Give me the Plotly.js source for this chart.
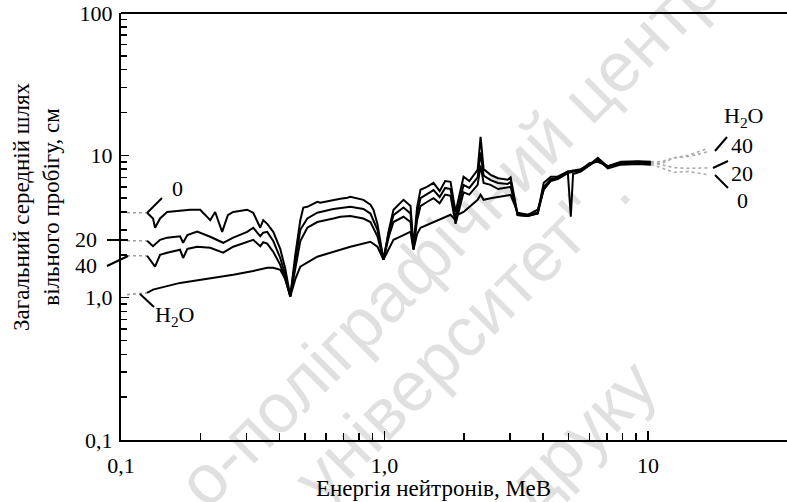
<!DOCTYPE html>
<html>
<head>
<meta charset="utf-8">
<script src="https://cdn.plot.ly/plotly-3.0.1.min.js"></script>
<style>
  html, body { margin: 0; padding: 0; background: #fff; }
  #chart { width: 787px; height: 502px; }
</style>
</head>
<body>
<div id="chart"></div>
<script>
// Total mean free path (cm) vs neutron energy (MeV), porosity 0 %, 20 %, 40 % and pure water.
const energy0 = [0.1054, 0.1256, 0.1323, 0.1347, 0.1407, 0.1496, 0.1676, 0.183, 0.1998, 0.2181, 0.2277, 0.2421, 0.2544, 0.2667, 0.3013, 0.3176, 0.3377, 0.3467, 0.359, 0.3784, 0.4022, 0.4203, 0.4391, 0.4587, 0.4793, 0.492, 0.5096, 0.556, 0.5709, 0.6398, 0.6801, 0.7232, 0.7424, 0.8321, 0.8846, 0.9082, 0.9406, 0.9913, 1.04, 1.082, 1.181, 1.256, 1.289, 1.33, 1.37, 1.45, 1.536, 1.62, 1.7, 1.782, 1.862, 1.997, 2.1, 2.258, 2.317, 2.379, 2.529, 2.7, 2.936, 3.013, 3.204, 3.498, 3.817, 4.024, 4.279, 4.549, 4.965, 5.097, 5.2, 5.564, 6.0, 6.455, 7.045, 7.897, 9.163, 10.27, 11.21, 12.56, 14.2, 16.9];
const path0   = [3.95, 3.95, 3.6, 3.1, 3.6, 4.0, 4.1, 4.15, 4.15, 3.5, 4.0, 2.9, 3.8, 4.0, 4.15, 3.95, 3.1, 3.5, 3.3, 2.9, 2.2, 1.6, 1.02, 2.0, 3.5, 4.3, 4.35, 4.72, 4.64, 4.87, 4.95, 5.03, 5.11, 4.87, 4.5, 4.15, 3.3, 1.85, 3.0, 4.15, 4.87, 4.4, 2.28, 4.3, 5.73, 6.0, 6.41, 5.6, 6.6, 6.52, 4.0, 7.07, 6.6, 7.91, 13.49, 8.0, 7.3, 6.9, 6.73, 7.0, 3.82, 3.82, 3.95, 6.41, 7.07, 7.1, 7.66, 3.7, 7.4, 7.7, 8.5, 9.4, 8.1, 8.6, 8.7, 8.6, 8.2, 7.6, 7.7, 7.3];

const energy20 = [0.1054, 0.1256, 0.1323, 0.1407, 0.1496, 0.1676, 0.1721, 0.1786, 0.1945, 0.2181, 0.2442, 0.2667, 0.3013, 0.3176, 0.3377, 0.3467, 0.359, 0.3784, 0.4022, 0.4203, 0.4391, 0.4587, 0.4793, 0.5096, 0.556, 0.6398, 0.6801, 0.7424, 0.8321, 0.8846, 0.9406, 0.9913, 1.04, 1.082, 1.181, 1.256, 1.289, 1.33, 1.37, 1.45, 1.536, 1.62, 1.7, 1.782, 1.862, 1.997, 2.1, 2.258, 2.317, 2.379, 2.529, 2.7, 2.936, 3.013, 3.204, 3.498, 3.817, 4.024, 4.279, 4.549, 4.965, 5.564, 6.0, 6.455, 7.045, 7.897, 9.163, 10.27, 11.21, 12.56, 14.2, 16.9];
const path20   = [2.51, 2.51, 2.3, 2.55, 2.64, 2.7, 2.43, 2.75, 2.91, 2.68, 2.43, 2.64, 2.9, 3.1, 2.7, 2.86, 2.9, 2.5, 1.9, 1.45, 1.02, 1.8, 3.0, 3.6, 3.95, 4.2, 4.28, 4.35, 4.2, 3.9, 3.0, 1.85, 2.9, 3.8, 4.3, 3.9, 2.2, 3.9, 5.0, 5.3, 5.7, 5.1, 5.9, 5.8, 3.6, 6.2, 5.9, 7.0, 10.5, 7.2, 6.7, 6.4, 6.3, 6.5, 3.8, 3.75, 3.9, 6.0, 6.8, 7.0, 7.7, 8.0, 8.6, 9.6, 8.3, 8.9, 9.0, 8.9, 8.6, 8.2, 8.1, 8.17];

const energy40 = [0.1054, 0.1256, 0.1347, 0.1407, 0.1496, 0.1676, 0.1721, 0.1786, 0.1945, 0.2181, 0.2442, 0.2667, 0.3013, 0.3176, 0.3377, 0.3467, 0.359, 0.3784, 0.4022, 0.4203, 0.4391, 0.4587, 0.4793, 0.5096, 0.556, 0.6398, 0.6801, 0.7424, 0.8321, 0.8846, 0.9406, 0.9913, 1.04, 1.082, 1.181, 1.256, 1.289, 1.33, 1.37, 1.45, 1.536, 1.62, 1.7, 1.782, 1.862, 1.997, 2.1, 2.258, 2.317, 2.379, 2.529, 2.7, 2.936, 3.013, 3.204, 3.498, 3.817, 4.024, 4.279, 4.549, 4.965, 5.564, 6.0, 6.455, 7.045, 7.897, 9.163, 10.27, 11.21, 12.56, 14.2, 16.9];
const path40   = [1.97, 1.97, 1.65, 2.0, 2.07, 2.17, 1.9, 2.2, 2.28, 2.24, 2.07, 2.28, 2.45, 2.55, 2.3, 2.45, 2.4, 2.1, 1.7, 1.35, 1.02, 1.6, 2.5, 3.1, 3.4, 3.6, 3.7, 3.75, 3.6, 3.4, 2.7, 1.85, 2.7, 3.4, 3.7, 3.4, 2.2, 3.5, 4.4, 4.7, 5.0, 4.6, 5.3, 5.2, 3.3, 5.5, 5.3, 6.2, 8.5, 6.4, 6.2, 5.8, 5.9, 6.0, 3.8, 3.75, 3.9, 5.8, 6.6, 6.8, 7.5, 7.9, 8.8, 9.0, 8.4, 9.0, 9.1, 9.0, 9.0, 9.6, 9.8, 10.6];

const energyWater = [0.1054, 0.1256, 0.1323, 0.1676, 0.2181, 0.2667, 0.3176, 0.359, 0.3784, 0.4022, 0.4203, 0.4391, 0.4587, 0.4793, 0.556, 0.6398, 0.7424, 0.8846, 0.9406, 0.9913, 1.04, 1.082, 1.181, 1.256, 1.289, 1.33, 1.37, 1.536, 1.782, 1.862, 1.895, 1.997, 2.258, 2.317, 2.379, 2.529, 2.936, 3.013, 3.204, 3.498, 3.817, 4.024, 4.279, 4.549, 4.965, 5.564, 6.455, 7.045, 7.897, 9.163, 10.27, 11.21, 12.56, 14.2, 16.9];
const pathWater   = [1.05, 1.08, 1.14, 1.27, 1.36, 1.45, 1.54, 1.62, 1.62, 1.57, 1.35, 1.02, 1.35, 1.65, 1.94, 2.1, 2.28, 2.47, 2.28, 1.85, 2.2, 2.55, 2.75, 2.91, 2.17, 2.8, 3.1, 3.4, 3.82, 3.5, 3.82, 4.0, 4.87, 5.28, 4.87, 5.0, 5.2, 5.28, 3.95, 3.82, 4.15, 5.73, 6.73, 6.9, 7.6, 7.9, 9.2, 8.4, 8.8, 8.9, 8.8, 8.7, 9.6, 10.0, 11.2];

// Axis ticks
const xTickVals = [0.1, 1, 10];
const xTickText = ['0,1', '1,0', '10'];
const xMinorVals = [0.2, 0.3, 0.4, 0.5, 0.6, 0.7, 0.8, 0.9, 2, 3, 4, 5, 6, 7, 8, 9];
const yTickVals = [0.1, 1, 10, 100];
const yTickText = ['0,1', '1,0', '10', '100'];
const yMinorVals = [0.2, 0.3, 0.4, 0.5, 0.6, 0.7, 0.8, 0.9, 2, 3, 4, 5, 6, 7, 8, 9, 20, 30, 40, 50, 60, 70, 80, 90];

const xTitle = 'Енергія нейтронів, МеВ';
const yTitle = 'Загальний середній шлях<br>вільного пробігу, см';

// Curve labels at both ends
const leftLabels  = ['0', '20', '40', 'H<sub>2</sub>O'];
const rightLabels = ['H<sub>2</sub>O', '40', '20', '0'];

// Watermark lines
const watermark = ['о-поліграфічний центр', 'університет" .', 'друку'];

// ---- layout geometry (pixels of the 787x502 page) ----
const M = { l: 121, r: 0, t: 13, b: 62 };
const W = 787, H = 502;
const plotW = W - M.l - M.r, plotH = H - M.t - M.b;
const fx = px => (px - M.l) / plotW;
const fy = py => (H - M.b - py) / plotH;

// Split a curve into a faint start, the main black part and a faint sparse tail
function split(E, L, lo, hi) {
  const lead = { x: [], y: [] }, main = { x: [], y: [] }, tail = { x: [], y: [] };
  E.forEach((e, i) => {
    if (e <= lo) { lead.x.push(e); lead.y.push(L[i]); }
    if (e >= lo && e <= hi) { main.x.push(e); main.y.push(L[i]); }
    if (e >= hi) { tail.x.push(e); tail.y.push(L[i]); }
  });
  const iFirst = E.findIndex(e => e > lo);
  if (iFirst > 0 && main.x[0] !== E[iFirst - 1]) { main.x.unshift(E[iFirst - 1]); main.y.unshift(L[iFirst - 1]); }
  const iLast = E.findIndex(e => e > hi);
  if (iLast > 0 && tail.x[0] !== E[iLast - 1]) { tail.x.unshift(E[iLast - 1]); tail.y.unshift(L[iLast - 1]); }
  return [lead, main, tail];
}

const series = [
  [energy0, path0], [energy20, path20], [energy40, path40], [energyWater, pathWater]
];
const traces = [];
series.forEach(([E, L]) => {
  const [lead, main, tail] = split(E, L, 0.13, 11.0);
  traces.push({ x: lead.x, y: lead.y, mode: 'lines', line: { color: '#a0a0a0', width: 1.6, dash: 'dot' }, hoverinfo: 'skip' });
  traces.push({ x: main.x, y: main.y, mode: 'lines', line: { color: '#000', width: 2 }, hoverinfo: 'skip' });
  traces.push({ x: tail.x, y: tail.y, mode: 'lines', line: { color: '#ababab', width: 1.6, dash: 'dot' }, hoverinfo: 'skip' });
});

const serif = 'Liberation Serif';
const sans = 'Liberation Sans';
const txt = (text, px, py, extra) => Object.assign({
  text, x: fx(px), y: fy(py), xref: 'paper', yref: 'paper', showarrow: false,
  xanchor: 'center', yanchor: 'middle', font: { family: serif, size: 22, color: '#000' }
}, extra || {});
const seg = (x0, y0, x1, y1, w) => ({
  type: 'line', xref: 'paper', yref: 'paper', x0: fx(x0), y0: fy(y0), x1: fx(x1), y1: fy(y1),
  line: { color: '#000', width: w || 2 }
});
const wmFont = { family: sans, size: 70, color: 'rgba(0,0,0,0.12)' };

const annotations = [
  // watermark
  txt(watermark[0], 448, 236, { textangle: -45, font: wmFont }),
  txt(watermark[1], 462, 334, { textangle: -45, font: wmFont }),
  txt(watermark[2], 580, 436, { textangle: -45, font: wmFont }),
  // axis titles
  txt(xTitle, 433, 489, { font: { family: serif, size: 23, color: '#000' } }),
  txt(yTitle, 37, 207, { textangle: -90, font: { family: serif, size: 23, color: '#000' } }),
  // curve labels, left
  txt(leftLabels[0], 177, 188),
  txt(leftLabels[1], 86, 240),
  txt(leftLabels[2], 86, 265),
  txt(leftLabels[3], 174, 316),
  // curve labels, right
  txt(rightLabels[0], 743, 117),
  txt(rightLabels[1], 742, 145),
  txt(rightLabels[2], 742, 173),
  txt(rightLabels[3], 742, 200)
];

const shapes = [
  // top frame line
  { type: 'line', xref: 'paper', yref: 'paper', x0: 0, x1: 1, y0: 1, y1: 1, line: { color: '#000', width: 2 } },
  // leader lines
  seg(147, 213, 162, 198),
  seg(107, 240, 128, 240),
  seg(107, 266, 128, 256),
  seg(140, 294, 154, 307),
  seg(715, 151, 727, 137),
  seg(713, 168, 728, 161),
  seg(715, 175, 728, 188)
];

const axisCommon = {
  type: 'log', showline: true, linecolor: '#000', linewidth: 2, mirror: false,
  ticks: 'inside', tickcolor: '#000', tickwidth: 1.5, showgrid: false, zeroline: false,
  tickfont: { family: serif, size: 22, color: '#000' }, tickmode: 'array'
};

const layout = {
  width: W, height: H, margin: M, paper_bgcolor: '#fff', plot_bgcolor: '#fff', showlegend: false,
  font: { family: serif, size: 22, color: '#000' },
  xaxis: Object.assign({}, axisCommon, {
    range: [-1, 1.528], tickvals: xTickVals, ticktext: xTickText, ticklen: 9, ticklabelstandoff: 5,
    minor: { tickmode: 'array', tickvals: xMinorVals, ticks: 'inside', ticklen: 7, tickwidth: 1.5, tickcolor: '#000', showgrid: false }
  }),
  yaxis: Object.assign({}, axisCommon, {
    range: [-1, 2], tickvals: yTickVals, ticktext: yTickText, ticklen: 8, ticklabelstandoff: 2,
    minor: { tickmode: 'array', tickvals: yMinorVals, ticks: 'inside', ticklen: 6, tickwidth: 1.5, tickcolor: '#000', showgrid: false }
  }),
  annotations, shapes
};

Plotly.newPlot('chart', traces, layout, { staticPlot: true, displayModeBar: false });
</script>
</body>
</html>
